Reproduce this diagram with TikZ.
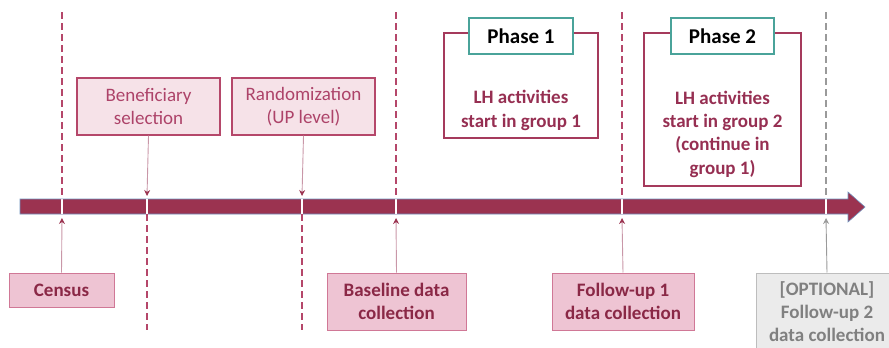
\documentclass[tikz,border=0pt]{standalone}
\usepackage{fontspec}
\setmainfont{Carlito}
\usetikzlibrary{arrows.meta}
\definecolor{barc}{HTML}{9B3350}
\definecolor{barline}{HTML}{6F93BF}
\definecolor{dashc}{HTML}{B5476A}
\definecolor{dashg}{HTML}{9A9A9A}
\definecolor{topfill}{HTML}{F6E2E8}
\definecolor{topdraw}{HTML}{B5476A}
\definecolor{toptext}{HTML}{AD4369}
\definecolor{botfill}{HTML}{EEC4D3}
\definecolor{botdraw}{HTML}{D07896}
\definecolor{bottext}{HTML}{8A2846}
\definecolor{phasec}{HTML}{A53A5C}
\definecolor{phasetext}{HTML}{962F52}
\definecolor{tealc}{HTML}{4AA39A}
\definecolor{optfill}{HTML}{EBEBEB}
\definecolor{optdraw}{HTML}{BDBDBD}
\definecolor{opttext}{HTML}{808080}
\definecolor{conn}{HTML}{C997A8}
\begin{document}
\begin{tikzpicture}[x=1pt,y=-1pt,
  every node/.style={inner sep=0pt, align=center, font=\fontsize{19}{23}\selectfont},
  topbox/.style={draw=topdraw, fill=topfill, line width=1.4pt, text=toptext, minimum width=143pt, minimum height=57pt},
  botbox/.style={draw=botdraw, fill=botfill, line width=1pt, text=bottext, font=\fontsize{19}{23}\selectfont\bfseries},
  optbox/.style={draw=optdraw, fill=optfill, line width=1pt, minimum width=142pt, minimum height=84pt},
  opttxt/.style={text=opttext, font=\fontsize{19}{23}\selectfont\bfseries},
  phaseframe/.style={draw=phasec, line width=2.8pt},
  phasetitle/.style={draw=tealc, fill=white, line width=1.1pt, font=\fontsize{21}{25}\selectfont\bfseries, minimum width=104pt, minimum height=36pt},
  phasebody/.style={text=phasetext, font=\fontsize{19}{23.3}\selectfont\bfseries},
  vdash/.style={draw=dashc, line width=1.3pt, dash pattern=on 7pt off 4pt},
  vdashg/.style={draw=dashg, line width=1.3pt, dash pattern=on 7pt off 4pt},
  conarrow/.style={draw=conn, line width=0.9pt, -{Stealth[length=6pt,width=6pt,color=barc]}},
  conarrowg/.style={draw=dashg, line width=0.9pt, -{Stealth[length=6pt,width=6pt]}},
  crossw/.style={draw=white, line width=2pt}
]
\useasboundingbox (0,0) rectangle (889,348);
\clip (0,0) rectangle (889,348);

% timeline bar
\fill[barc, draw=barline, line width=0.6pt] (20,199) -- (848,199) -- (848,192) -- (865,207) -- (848,222) -- (848,214) -- (20,214) -- cycle;

% coordinates on the bar
\foreach \n/\x in {a/62, b/147, c/302, d/396, e/622, f/826}{
  \coordinate (top\n) at (\x,12);
  \coordinate (bt\n) at (\x,199);
  \coordinate (bb\n) at (\x,214);
  \coordinate (low\n) at (\x,330);
  \coordinate (at\n) at (\x,196);
  \coordinate (ab\n) at (\x,218);
}

% white cuts through the bar
\foreach \n in {a,b,c,d,e,f}{ \draw[crossw] (bt\n) -- (bb\n); }

% dashed verticals
\draw[vdash] (topa) -- (bta);
\draw[vdash] (bbb) -- (lowb);
\draw[vdash] (bbc) -- (lowc);
\draw[vdash] (topd) -- (btd);
\draw[vdash] (tope) -- (bte);
\draw[vdashg] (topf) -- (btf);

% top boxes
\node[topbox] (benef) at (148.5,106.5) {Beneficiary\\selection};
\node[topbox] (rand) at (303.5,106.5) {Randomization\\(UP level)};
\draw[conarrow] (benef.south) -- (atb);
\draw[conarrow] (rand.south) -- (atc);

% phase 1
\node[phaseframe, minimum width=154pt, minimum height=105pt] (ph1) at (521,85.5) {};
\node[phasetitle] (ph1t) at (521,36) {Phase 1};
\node[phasebody] (ph1b) at (521,110.5) {LH activities\\start in group 1};

% phase 2
\node[phaseframe, minimum width=157pt, minimum height=153pt] (ph2) at (722.5,109.5) {};
\node[phasetitle, minimum width=103pt] (ph2t) at (722.5,36) {Phase 2};
\node[phasebody] (ph2b) at (722.5,134) {LH activities\\start in group 2\\(continue in\\group 1)};

% bottom boxes
\node[botbox, minimum width=105pt, minimum height=34pt] (census) at (61.5,290) {Census};
\node[botbox, minimum width=139pt, minimum height=57pt] (base) at (396.5,301.5) {Baseline data\\collection};
\node[botbox, minimum width=142pt, minimum height=57pt] (fu1) at (623,301.5) {Follow-up 1\\data collection};
\node[optbox] (fu2) at (827,315) {};
\node[opttxt] (fu2t) at (827,311.5) {[OPTIONAL]\\Follow-up 2\\data collection};

\draw[conarrow] (census.north) -- (aba);
\draw[conarrow] (base.north) -- (abd);
\draw[conarrow] (fu1.north) -- (abe);
\draw[conarrowg] (fu2.north) -- (abf);
\end{tikzpicture}
\end{document}
